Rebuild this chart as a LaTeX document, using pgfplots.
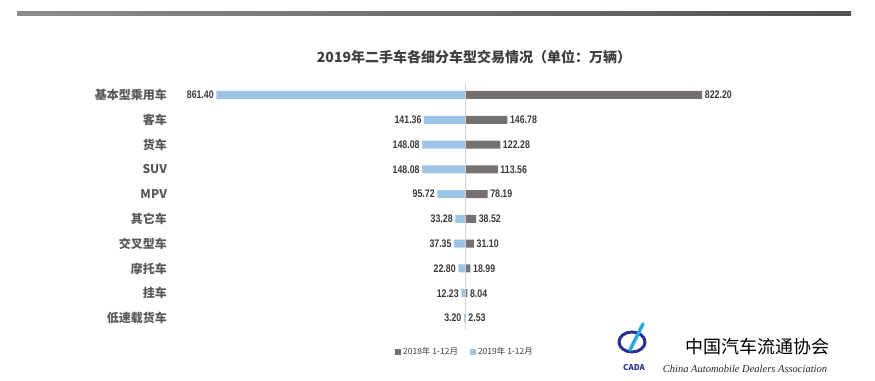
\documentclass[border=0pt]{standalone}
\usepackage{pgfplots}
\pgfplotsset{compat=1.18}
\usepackage{fontspec}
\setmainfont{Noto Sans CJK SC}
\newfontfamily\numfont[FakeStretch=0.8]{Liberation Sans}
\newfontfamily\serifit{Liberation Serif}
\definecolor{barblue}{HTML}{9DC3E6}
\definecolor{bargray}{HTML}{767171}
\definecolor{labgray}{HTML}{595959}
\definecolor{numgray}{HTML}{3A3A3A}
\definecolor{titlegray}{HTML}{404040}
\definecolor{navy}{HTML}{2B2F8F}
\definecolor{logoblue}{HTML}{29A9E1}
\begin{document}
\begin{tikzpicture}[x=1pt,y=1pt]
\useasboundingbox (0,0) rectangle (875,380);
\fill[white] (0,0) rectangle (875,380);
\shade[left color=black!45, right color=black!68] (17,364) rectangle (851,368);
\node[font=\bfseries\fontsize{14}{16}\selectfont, text=titlegray] at (474,323) {2019年二手车各细分车型交易情况（单位：万辆）};
\begin{axis}[
  at={(176.5pt,49.6pt)}, anchor=south west,
  scale only axis, width=577pt, height=247.8pt,
  xmin=-1000, xmax=1000, ymin=-0.5, ymax=9.5,
  y dir=reverse,
  xbar, bar width=8pt, bar shift=0pt,
  axis line style={draw=none},
  xtick=\empty,
  ytick={0,1,2,3,4,5,6,7,8,9},
  yticklabels={基本型乘用车,客车,货车,SUV,MPV,其它车,交叉型车,摩托车,挂车,低速载货车},
  major tick length=0pt,
  yticklabel style={font=\bfseries\fontsize{12}{13}\selectfont, text=labgray, xshift=-6pt},
  point meta=explicit symbolic,
  nodes near coords,
  nodes near coords style={font=\numfont\bfseries\fontsize{11}{12}\selectfont, text=numgray, inner sep=2.5pt},
  clip=false,
  legend style={at={(axis description cs:0.5,-0.087)}, anchor=center, draw=none, fill=none,
    legend columns=2, font=\fontsize{8.5}{9}\selectfont, text=titlegray,
    /tikz/every even column/.append style={column sep=10pt}},
  legend image code/.code={\fill[#1] (0pt,-3pt) rectangle (6pt,3pt);},
]
\addplot[fill=bargray, draw=none, nodes near coords style={anchor=west}] coordinates {
  (822.20,0) [822.20]
  (146.78,1) [146.78]
  (122.28,2) [122.28]
  (113.56,3) [113.56]
  (78.19,4) [78.19]
  (38.52,5) [38.52]
  (31.10,6) [31.10]
  (18.99,7) [18.99]
  (8.04,8) [8.04]
  (2.53,9) [2.53]
};
\addlegendentry{2018年 1-12月}
\addplot[fill=barblue, draw=none, nodes near coords style={anchor=east}] coordinates {
  (-861.40,0) [861.40]
  (-141.36,1) [141.36]
  (-148.08,2) [148.08]
  (-148.08,3) [148.08]
  (-95.72,4) [95.72]
  (-33.28,5) [33.28]
  (-37.35,6) [37.35]
  (-22.80,7) [22.80]
  (-12.23,8) [12.23]
  (-3.20,9) [3.20]
};
\addlegendentry{2019年 1-12月}
\draw[black!18, line width=0.8pt] (axis cs:0,-0.5) -- (axis cs:0,9.5);
\end{axis}
% logo
\draw[navy, line width=3pt] (632,38) ellipse (13 and 10);
\draw[logoblue, line width=3.5pt, line cap=round] (630,30) -- (643,56);
\node[font=\bfseries\itshape\fontsize{8}{9}\selectfont, text=navy] at (634,12) {CADA};
\node[font=\fontsize{18}{20}\selectfont, text=black] at (757,33) {中国汽车流通协会};
\node[font=\serifit\itshape\fontsize{10.5}{12}\selectfont, text=black!85] at (745,11) {China Automobile Dealers Association};
\end{tikzpicture}
\end{document}
